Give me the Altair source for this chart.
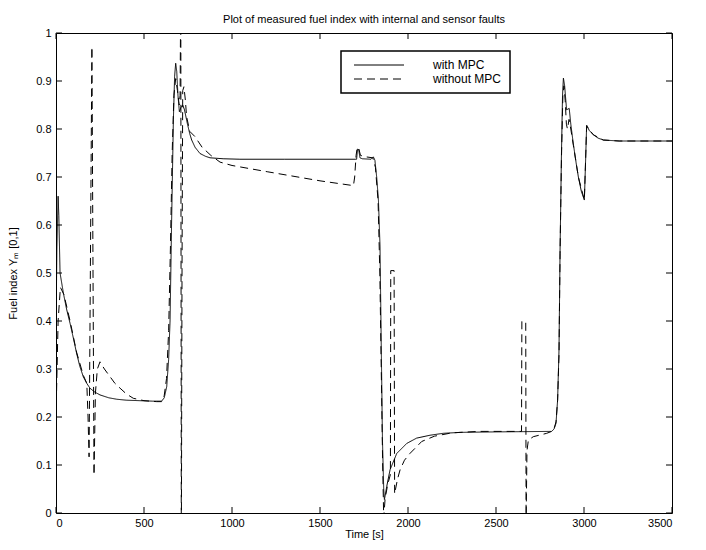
import altair as alt
import pandas as pd

# ---- data ----
series_names = ["with MPC", "without MPC"]

t_mpc = [0, 5, 12, 16, 23, 42, 60, 80, 100, 117,
         135, 155, 175, 193, 220, 250, 300, 345, 400, 477,
         550, 600, 615, 629, 640, 648, 657, 667, 674, 680,
         686, 693, 701, 710, 720, 730, 746, 760, 771, 790,
         818, 850, 875, 950, 1045, 1300, 1500, 1700, 1708, 1713,
         1720, 1727, 1740, 1790, 1803, 1812, 1822, 1832, 1841, 1848,
         1855, 1862, 1866, 1872, 1879, 1898, 1936, 1993, 2049, 2125,
         2200, 2300, 2500, 2816, 2830, 2841, 2850, 2858, 2864, 2872,
         2878, 2883, 2890, 2901, 2916, 2925, 2939, 2955, 2968, 2985,
         3002, 3008, 3015, 3030, 3053, 3080, 3110, 3200, 3500]
v_mpc = [0.38, 0.55, 0.66, 0.62, 0.50, 0.458, 0.425, 0.395, 0.362, 0.333,
         0.306, 0.284, 0.270, 0.260, 0.252, 0.246, 0.240, 0.237, 0.235, 0.234,
         0.233, 0.233, 0.240, 0.263, 0.32, 0.40, 0.61, 0.82, 0.91, 0.937,
         0.92, 0.87, 0.836, 0.845, 0.85, 0.84, 0.812, 0.79, 0.777, 0.762,
         0.749, 0.743, 0.740, 0.738, 0.737, 0.737, 0.737, 0.737, 0.737, 0.758,
         0.757, 0.74, 0.738, 0.737, 0.742, 0.735, 0.70, 0.652, 0.555, 0.35,
         0.15, 0.05, 0.028, 0.04, 0.055, 0.09, 0.124, 0.145, 0.156, 0.162,
         0.166, 0.168, 0.169, 0.170, 0.175, 0.187, 0.235, 0.34, 0.548, 0.75,
         0.87, 0.906, 0.89, 0.84, 0.843, 0.81, 0.77, 0.73, 0.70, 0.67,
         0.652, 0.72, 0.808, 0.797, 0.788, 0.781, 0.777, 0.775, 0.775]

t_nompc = [0, 12, 25, 45, 80, 117, 155, 175, 182, 188,
           204, 216, 224, 235, 250, 275, 307, 335, 364, 400,
           439, 500, 572, 600, 615, 628, 640, 650, 660, 670,
           680, 690, 700, 705, 709, 712, 716, 720, 727, 735,
           742, 760, 790, 830, 880, 932, 1000, 1200, 1500, 1690,
           1697, 1705, 1712, 1720, 1730, 1760, 1800, 1815, 1830, 1840,
           1848, 1856, 1862, 1870, 1885, 1900, 1902, 1921, 1924, 1940,
           1955, 1980, 2011, 2078, 2150, 2250, 2400, 2645, 2647, 2669,
           2671, 2676, 2684, 2712, 2788, 2816, 2830, 2841, 2850, 2858,
           2864, 2872, 2880, 2886, 2893, 2900, 2906, 2915, 2925, 2940,
           2968, 3002, 3015, 3053, 3110, 3200, 3500]
v_nompc = [0.20, 0.40, 0.47, 0.455, 0.40, 0.335, 0.287, 0.27, 0.20, 0.117,
           0.971, 0.079, 0.25, 0.30, 0.315, 0.30, 0.284, 0.27, 0.26, 0.248,
           0.239, 0.234, 0.232, 0.232, 0.245, 0.28, 0.38, 0.55, 0.75, 0.87,
           0.905, 0.88, 0.85, 0.87, 1.1, -0.1, 0.5, 0.88, 0.888, 0.86,
           0.826, 0.795, 0.784, 0.762, 0.745, 0.731, 0.724, 0.711, 0.692, 0.682,
           0.70, 0.745, 0.762, 0.76, 0.745, 0.742, 0.74, 0.72, 0.65, 0.50,
           0.30, 0.10, -0.01, 0.03, 0.06, 0.08, 0.505, 0.505, 0.04, 0.07,
           0.09, 0.11, 0.124, 0.149, 0.160, 0.167, 0.170, 0.170, 0.399, 0.399,
           -0.02, 0.13, 0.152, 0.159, 0.166, 0.17, 0.176, 0.19, 0.235, 0.33,
           0.54, 0.74, 0.87, 0.89, 0.86, 0.81, 0.80, 0.82, 0.80, 0.765,
           0.70, 0.652, 0.806, 0.788, 0.777, 0.775, 0.775]

x_ticks = [0, 500, 1000, 1500, 2000, 2500, 3000, 3500]
y_ticks = [0, 0.1, 0.2, 0.3, 0.4, 0.5, 0.6, 0.7, 0.8, 0.9, 1]

# ---- tables ----
df = pd.concat([
    pd.DataFrame({"t": t_mpc, "v": v_mpc, "series": series_names[0]}),
    pd.DataFrame({"t": t_nompc, "v": v_nompc, "series": series_names[1]}),
], ignore_index=True)
df_xt = pd.DataFrame({"t": x_ticks})
df_yt = pd.DataFrame({"v": y_ticks})

FONT = "Liberation Sans"
W, H = 616, 480
XMAX, YMAX = 3500, 1.0
TICK = 6  # px, inward ticks
tx = TICK * XMAX / W
ty = TICK * YMAX / H

xs = alt.Scale(domain=[0, XMAX], nice=False, zero=False)
ys = alt.Scale(domain=[0, YMAX], nice=False, zero=False)
xaxis = alt.Axis(values=x_ticks, format="d", title="Time [s]")
yaxis = alt.Axis(values=y_ticks, format="~g", title="Fuel index Yₘ [0,1]")

X = alt.X("t:Q", scale=xs, axis=xaxis)
Y = alt.Y("v:Q", scale=ys, axis=yaxis)

lines = alt.Chart(df).mark_line(clip=True, strokeWidth=1, color="black").encode(
    x=X,
    y=Y,
    strokeDash=alt.StrokeDash(
        "series:N",
        scale=alt.Scale(domain=series_names, range=[[1, 0], [8, 5]]),
        legend=alt.Legend(
            title=None, orient="none", legendX=285, legendY=18,
            direction="vertical", strokeColor="black", fillColor="white",
            padding=8, cornerRadius=0,
            symbolType="M-5,0H5", symbolSize=100, symbolStrokeWidth=1,
            symbolStrokeColor="black", symbolFillColor="transparent",
            symbolOffset=24, labelOffset=48,
            labelFont=FONT, labelFontSize=12, labelColor="black",
            rowPadding=2,
        ),
    ),
)

rule_kw = dict(color="black", strokeWidth=1)
xt_bottom = alt.Chart(df_xt).mark_rule(**rule_kw).encode(
    x=X, y=alt.YDatum(0, scale=ys, axis=yaxis, type="quantitative"), y2=alt.datum(ty))
xt_top = alt.Chart(df_xt).mark_rule(**rule_kw).encode(
    x=X, y=alt.YDatum(YMAX, scale=ys, axis=yaxis, type="quantitative"), y2=alt.datum(YMAX - ty))
yt_left = alt.Chart(df_yt).mark_rule(**rule_kw).encode(
    y=Y, x=alt.XDatum(0, scale=xs, axis=xaxis, type="quantitative"), x2=alt.datum(tx))
yt_right = alt.Chart(df_yt).mark_rule(**rule_kw).encode(
    y=Y, x=alt.XDatum(XMAX, scale=xs, axis=xaxis, type="quantitative"), x2=alt.datum(XMAX - tx))

chart = alt.layer(lines, xt_bottom, xt_top, yt_left, yt_right).properties(
    width=W, height=H,
    autosize=alt.AutoSizeParams(type="none"),
    padding={"left": 48, "top": 25, "right": 26, "bottom": 29},
    title=alt.TitleParams(
        "Plot of measured fuel index with internal and sensor faults",
        font=FONT, fontSize=11, fontWeight="normal", color="black",
        anchor="middle", offset=2,
    ),
).configure(background="white").configure_view(
    stroke="black", strokeWidth=1
).configure_legend(
    strokeWidth=1.5
).configure_axis(
    domain=False, ticks=False, tickSize=0, grid=False,
    labelFont=FONT, labelFontSize=11, labelColor="black",
    titleFont=FONT, titleFontSize=11, titleFontWeight="normal", titleColor="black",
).configure_axisX(
    labelPadding=4, titlePadding=0
).configure_axisY(
    labelPadding=5, titlePadding=17
)

chart.save("out.html", embed_options={"renderer": "svg", "actions": False})
